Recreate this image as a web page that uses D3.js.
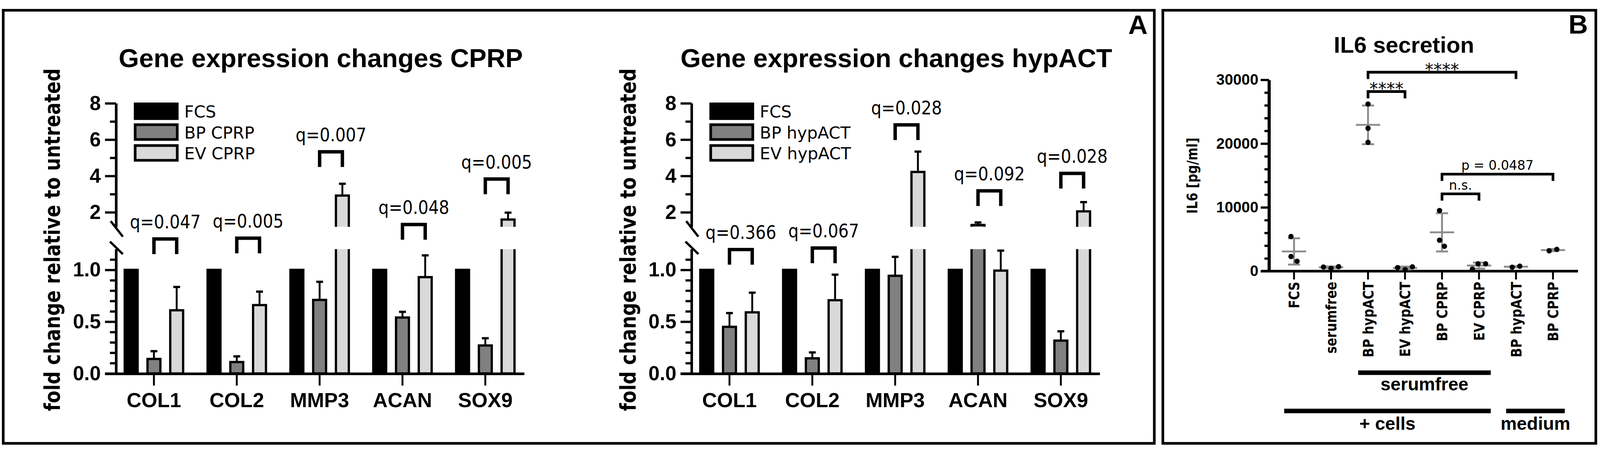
<!DOCTYPE html>
<html>
<head>
<meta charset="utf-8">
<script src="https://cdn.jsdelivr.net/npm/d3@7"></script>
<style>
html, body { margin: 0; padding: 0; background: #fff; overflow: hidden; width: 100%; height: 100%; }
#chart-area { width: 100vw; height: 100vh; }
svg { display: block; }
</style>
</head>
<body>
<div id="chart-area"></div>
<script>
/* Gene expression bars (panel A) and IL6 scatter (panel B) */

var genes = ["COL1", "COL2", "MMP3", "ACAN", "SOX9"];

var seriesCPRP = ["FCS", "BP CPRP", "EV CPRP"];
var fcsCPRP = [1, 1, 1, 1, 1];
var bpCPRP = [0.14, 0.11, 0.71, 0.54, 0.27];
var bpCPRPsd = [0.075, 0.055, 0.175, 0.055, 0.07];
var evCPRP = [0.61, 0.66, 2.92, 0.93, 1.6];
var evCPRPsd = [0.225, 0.13, 0.65, 0.21, 0.38];
var qCPRP = ["q=0.047", "q=0.005", "q=0.007", "q=0.048", "q=0.005"];

var seriesHyp = ["FCS", "BP hypACT", "EV hypACT"];
var fcsHyp = [1, 1, 1, 1, 1];
var bpHyp = [0.45, 0.146, 0.943, 1.30, 0.317];
var bpHypSd = [0.133, 0.057, 0.183, 0.14, 0.09];
var evHyp = [0.59, 0.707, 4.22, 0.993, 2.05];
var evHypSd = [0.19, 0.247, 1.12, 0.193, 0.51];
var qHyp = ["q=0.366", "q=0.067", "q=0.028", "q=0.092", "q=0.028"];

var il6Groups = ["FCS", "serumfree", "BP hypACT", "EV hypACT", "BP CPRP", "EV CPRP", "BP hypACT", "BP CPRP"];
var il6Values = [
    [5430, 2290, 1550],
    [450, 700, 650],
    [26200, 22400, 20200],
    [250, 680, 560],
    [9500, 4850, 3900],
    [1150, 1150, 330],
    [620, 780],
    [3180, 3420]
];
var il6Ticks = [0, 10000, 20000, 30000];
var il6Tests = [
    { from: 2, to: 3, label: "****" },
    { from: 2, to: 6, label: "****" },
    { from: 4, to: 5, label: "n.s." },
    { from: 4, to: 7, label: "p = 0.0487" }
];

// layout only (not data)
var bracketTopCPRP = [613, 611, 383, 575, 455];
var bracketTopHyp = [641, 637, 312, 486, 440];

var width = 4220, height = 1163;
var sans = "'Liberation Sans', Arial, sans-serif";
var dejavu = "'DejaVu Sans', Verdana, sans-serif";

var svg = d3.select("#chart-area")
    .append("svg")
    .attr("width", "100%")
    .attr("height", "100%")
    .attr("viewBox", "0 0 " + width + " " + height)
    .style("background", "#fff");

// panel frames
svg.append("rect").attr("x", 8.5).attr("y", 9.5).attr("width", 3036).attr("height", 1143)
    .attr("fill", "none").attr("stroke", "#000").attr("stroke-width", 7);
svg.append("rect").attr("x", 3067).attr("y", 9.5).attr("width", 1142).attr("height", 1143)
    .attr("fill", "none").attr("stroke", "#000").attr("stroke-width", 7);

svg.append("text").attr("x", 3027).attr("y", 72).attr("text-anchor", "end")
    .attr("font-family", sans).attr("font-weight", "bold").attr("font-size", 71).text("A");
svg.append("text").attr("x", 4188).attr("y", 71).attr("text-anchor", "end")
    .attr("font-family", sans).attr("font-weight", "bold").attr("font-size", 71).text("B");

// broken y axis for panel A
var yLow = d3.scaleLinear().domain([0, 1.2]).range([968, 640]);
var yUp = d3.scaleLinear().domain([1.2, 8]).range([581, 255]);
var barColors = ["#000000", "#808080", "#d9d9d9"];

var defs = svg.append("defs");
defs.append("clipPath").attr("id", "clipLow").append("rect")
    .attr("x", 0).attr("y", 640).attr("width", width).attr("height", 400);
defs.append("clipPath").attr("id", "clipUp").append("rect")
    .attr("x", 0).attr("y", 200).attr("width", width).attr("height", 381);

function yVal(v) {
    return v > 1.2 ? yUp(v) : yLow(v);
}

function drawGeneChart(axisX, title, series, means, sds, qLabels, bracketTops) {
    var g = svg.append("g").attr("transform", "translate(" + axisX + ",0)");

    var x = d3.scaleBand()
        .domain(genes)
        .range([-9.25, 1083.25])
        .padding(0);
    var step = 60;

    g.append("text")
        .attr("x", 540).attr("y", 160)
        .attr("text-anchor", "middle")
        .attr("font-family", sans).attr("font-weight", "bold").attr("font-size", 69)
        .text(title);

    // y label
    g.append("text")
        .attr("transform", "translate(-148,615) scale(1,0.86) rotate(-90)")
        .attr("text-anchor", "middle")
        .attr("font-family", dejavu).attr("font-weight", "bold").attr("font-size", 56)
        .text("fold change relative to untreated");

    // bars
    genes.forEach(function(gene, i) {
        series.forEach(function(s, j) {
            var v = means[j][i];
            var sd = sds[j][i];
            var cx = x(gene) + x.bandwidth() / 2 + (j - 1) * step;
            var fill = barColors[j];
            var lowTop = v > 1.2 ? 628 : yLow(v);
            g.append("rect")
                .attr("x", cx - 17).attr("y", lowTop)
                .attr("width", 34).attr("height", yLow(0) - lowTop)
                .attr("fill", fill).attr("stroke", "#000").attr("stroke-width", 6)
                .attr("clip-path", "url(#clipLow)");
            if (v > 1.2) {
                g.append("rect")
                    .attr("x", cx - 17).attr("y", yUp(v))
                    .attr("width", 34).attr("height", 593 - yUp(v))
                    .attr("fill", fill).attr("stroke", "#000").attr("stroke-width", 6)
                    .attr("clip-path", "url(#clipUp)");
            }
            if (sd > 0) {
                var yt = yVal(v + sd);
                g.append("line")
                    .attr("x1", cx).attr("x2", cx)
                    .attr("y1", yVal(v)).attr("y2", yt)
                    .attr("stroke", "#000").attr("stroke-width", 5);
                g.append("line")
                    .attr("x1", cx - 9).attr("x2", cx + 9)
                    .attr("y1", yt).attr("y2", yt)
                    .attr("stroke", "#000").attr("stroke-width", 6);
            }
        });

        // significance bracket BP vs EV
        var c1 = x(gene) + x.bandwidth() / 2;
        var c2 = c1 + step;
        var top = bracketTops[i];
        g.append("path")
            .attr("d", "M" + c1 + "," + (top + 40) + "V" + top + "H" + c2 + "V" + (top + 40))
            .attr("fill", "none").attr("stroke", "#000").attr("stroke-width", 9);
        g.append("text")
            .attr("transform", "translate(" + ((c1 + c2) / 2) + "," + (top - 28) + ") scale(0.88,1)")
            .attr("text-anchor", "middle")
            .attr("font-family", dejavu).attr("font-size", 49)
            .text(qLabels[i]);
    });

    // y axes
    var upMajor = d3.axisLeft(yUp).tickValues([2, 4, 6, 8]).tickSize(29).tickSizeOuter(0).tickPadding(11)
        .tickFormat(d3.format("d"));
    var upMinor = d3.axisLeft(yUp).tickValues([3, 5, 7]).tickSize(16).tickSizeOuter(0).tickFormat("");
    var lowMajor = d3.axisLeft(yLow).tickValues([0, 0.5, 1.0]).tickSize(29).tickSizeOuter(0).tickPadding(11)
        .tickFormat(d3.format(".1f"));
    var lowMinor = d3.axisLeft(yLow).tickValues([0.1, 0.2, 0.3, 0.4, 0.6, 0.7, 0.8, 0.9, 1.1])
        .tickSize(16).tickSizeOuter(0).tickFormat("");

    [upMajor, upMinor, lowMajor, lowMinor].forEach(function(ax) {
        var a = g.append("g").call(ax);
        a.select(".domain").attr("stroke-width", 6.5);
        a.selectAll(".tick line").attr("stroke-width", 6);
        a.selectAll(".tick text")
            .attr("font-family", sans).attr("font-weight", "bold").attr("font-size", 53)
            .attr("fill", "#000");
    });

    // break marks
    g.append("line").attr("x1", -14).attr("y1", 566).attr("x2", 18).attr("y2", 607)
        .attr("stroke", "#000").attr("stroke-width", 6);
    g.append("line").attr("x1", -16).attr("y1", 620).attr("x2", 18).attr("y2", 653)
        .attr("stroke", "#000").attr("stroke-width", 6);

    // x axis
    g.append("line")
        .attr("x1", -29).attr("x2", 1077)
        .attr("y1", yLow(0) + 1).attr("y2", yLow(0) + 1)
        .attr("stroke", "#000").attr("stroke-width", 7);
    var xa = g.append("g")
        .attr("transform", "translate(0," + (yLow(0) + 1) + ")")
        .call(d3.axisBottom(x).tickSize(31).tickSizeOuter(0));
    xa.select(".domain").remove();
    xa.selectAll(".tick line").attr("stroke-width", 5);
    xa.selectAll(".tick text")
        .attr("y", 88).attr("dy", 0)
        .attr("font-family", sans).attr("font-weight", "bold").attr("font-size", 54)
        .attr("fill", "#000");

    // legend
    series.forEach(function(s, j) {
        var ly = 253 + j * 55;
        g.append("rect")
            .attr("x", 50.5).attr("y", ly + 3.5)
            .attr("width", 111).attr("height", 39)
            .attr("fill", barColors[j]).attr("stroke", "#000").attr("stroke-width", 7);
        g.append("text")
            .attr("x", 180).attr("y", ly + 40)
            .attr("font-family", dejavu).attr("font-size", 44)
            .text(s);
    });
}

drawGeneChart(306, "Gene expression changes CPRP", seriesCPRP,
    [fcsCPRP, bpCPRP, evCPRP], [[0, 0, 0, 0, 0], bpCPRPsd, evCPRPsd], qCPRP, bracketTopCPRP);
drawGeneChart(1824, "Gene expression changes hypACT", seriesHyp,
    [fcsHyp, bpHyp, evHyp], [[0, 0, 0, 0, 0], bpHypSd, evHypSd], qHyp, bracketTopHyp);

// ---------- panel B ----------
var xB = d3.scalePoint().domain(d3.range(il6Groups.length)).range([3413, 4096]);
var yB = d3.scaleLinear().domain([0, 30000]).range([698, 193]);
var gB = svg.append("g");
var grey = "#8c8c8c";

gB.append("text")
    .attr("x", 3703).attr("y", 121)
    .attr("text-anchor", "middle")
    .attr("font-family", sans).attr("font-weight", "bold").attr("font-size", 60)
    .text("IL6 secretion");

gB.append("text")
    .attr("transform", "translate(3158,446) scale(1,0.86) rotate(-90)")
    .attr("text-anchor", "middle")
    .attr("font-family", dejavu).attr("font-weight", "bold").attr("font-size", 38)
    .text("IL6 [pg/ml]");

var bMajor = d3.axisLeft(yB).tickValues(il6Ticks).tickSize(22).tickSizeOuter(0).tickPadding(6)
    .tickFormat(d3.format("d"));
var bMinor = d3.axisLeft(yB).tickValues(d3.range(2000, 30000, 2000).filter(function(d) { return d % 10000; }))
    .tickSize(12).tickSizeOuter(0).tickFormat("");
[bMajor, bMinor].forEach(function(ax) {
    var a = gB.append("g").attr("transform", "translate(3347,0)").call(ax);
    a.select(".domain").attr("stroke-width", 8);
    a.selectAll(".tick line").attr("stroke-width", 6);
    a.selectAll(".tick text")
        .attr("font-family", sans).attr("font-weight", "bold").attr("font-size", 40)
        .attr("fill", "#000");
});

gB.append("line")
    .attr("x1", 3326).attr("x2", 4162).attr("y1", yB(0)).attr("y2", yB(0))
    .attr("stroke", "#000").attr("stroke-width", 7);

il6Groups.forEach(function(name, i) {
    var cx = xB(i);
    gB.append("line").attr("x1", cx).attr("x2", cx).attr("y1", yB(0)).attr("y2", yB(0) + 22)
        .attr("stroke", "#000").attr("stroke-width", 5);
    gB.append("text")
        .attr("transform", "translate(" + (cx + 14) + "," + (yB(0) + 28) + ") scale(1,0.86) rotate(-90)")
        .attr("text-anchor", "end")
        .attr("font-family", dejavu).attr("font-weight", "bold").attr("font-size", 38)
        .text(name);
});

// spread overlapping points sideways
var minGap = 20;
function swarm(vals) {
    var pts = [];
    vals.forEach(function(v) {
        var y = yB(v);
        for (var k = 0; k < 400; k++) {
            var dx = (k % 2 ? 1 : -1) * Math.ceil(k / 2);
            var ok = pts.every(function(q) {
                return (dx - q.dx) * (dx - q.dx) + (y - q.y) * (y - q.y) >= minGap * minGap;
            });
            if (ok) { pts.push({ v: v, y: y, dx: dx }); break; }
        }
    });
    var mid = (d3.min(pts, function(p) { return p.dx; }) + d3.max(pts, function(p) { return p.dx; })) / 2;
    pts.forEach(function(p) { p.dx -= mid; });
    return pts;
}

il6Values.forEach(function(vals, i) {
    var cx = xB(i);
    var m = d3.mean(vals);
    var sd = d3.deviation(vals);
    gB.append("line").attr("x1", cx).attr("x2", cx).attr("y1", yB(m - sd)).attr("y2", yB(m + sd))
        .attr("stroke", grey).attr("stroke-width", 5);
    [m - sd, m + sd].forEach(function(e) {
        gB.append("line").attr("x1", cx - 16).attr("x2", cx + 16).attr("y1", yB(e)).attr("y2", yB(e))
            .attr("stroke", grey).attr("stroke-width", 5);
    });
    gB.append("line").attr("x1", cx - 32).attr("x2", cx + 32).attr("y1", yB(m)).attr("y2", yB(m))
        .attr("stroke", grey).attr("stroke-width", 5);
    gB.selectAll(null)
        .data(swarm(vals))
        .enter()
        .append("circle")
        .attr("cx", function(p) { return cx + p.dx; })
        .attr("cy", function(p) { return p.y; })
        .attr("r", 7)
        .attr("fill", "#000");
});

// significance brackets
var bracketTopB = [224, 173, 494, 442];
il6Tests.forEach(function(t, k) {
    var x1 = xB(t.from), x2 = xB(t.to), top = bracketTopB[k];
    gB.append("path")
        .attr("d", "M" + x1 + "," + (top + 18) + "V" + top + "H" + x2 + "V" + (top + 18))
        .attr("fill", "none").attr("stroke", "#000").attr("stroke-width", 7);
    var star = t.label.indexOf("*") === 0;
    gB.append("text")
        .attr("x", (x1 + x2) / 2)
        .attr("y", star ? top + 9 : top - 11)
        .attr("text-anchor", "middle")
        .attr("font-family", dejavu)
        .attr("font-size", star ? 45 : 34)
        .text(t.label);
});

// group bars under the x labels
var groupBars = [
    { from: 2, to: 5, y: 960, label: "serumfree", ty: 1013 },
    { from: 0, to: 5, y: 1061, label: "+ cells", ty: 1117 },
    { from: 6, to: 7, y: 1061, label: "medium", ty: 1117 }
];
groupBars.forEach(function(b) {
    var x1 = xB(b.from) - 26, x2 = xB(b.to) + 31;
    gB.append("rect").attr("x", x1).attr("y", b.y).attr("width", x2 - x1).attr("height", 12).attr("fill", "#000");
    gB.append("text")
        .attr("x", (x1 + x2) / 2).attr("y", b.ty)
        .attr("text-anchor", "middle")
        .attr("font-family", sans).attr("font-weight", "bold").attr("font-size", 48)
        .text(b.label);
});
</script>
</body>
</html>
